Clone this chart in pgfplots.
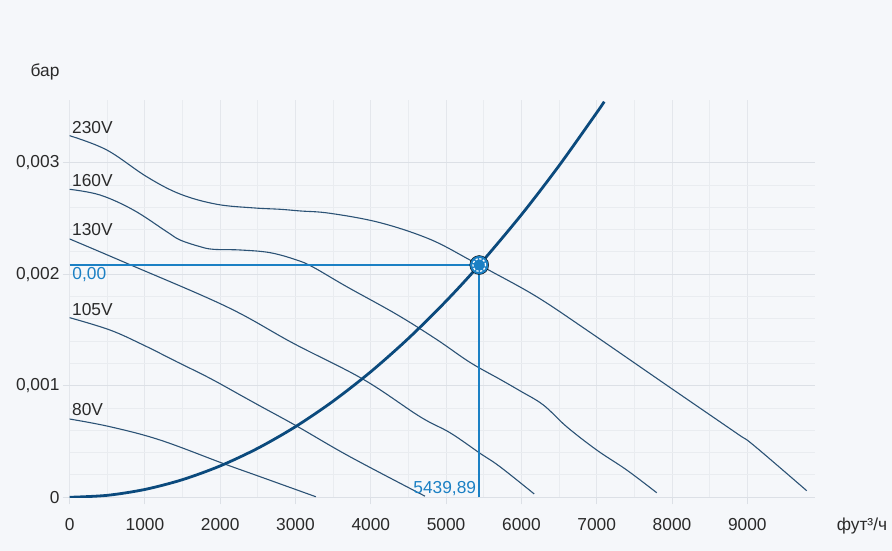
\documentclass[border=0pt]{standalone}
\usepackage{pgfplots}
\pgfplotsset{compat=1.18}
\usepackage{fontspec}
\setmainfont{Liberation Sans}
\definecolor{bg}{HTML}{F5F7FA}
\definecolor{gmaj}{HTML}{DCE0E6}
\definecolor{gmajx}{HTML}{E4E7EC}
\definecolor{gmin}{HTML}{E9ECF0}
\definecolor{fan}{HTML}{2B5275}
\definecolor{sys}{HTML}{0B4A7D}
\definecolor{opblue}{HTML}{1B80C4}
\definecolor{txt}{HTML}{2A2A2A}
\begin{document}
\fontsize{17.4}{20}\selectfont
\begin{tikzpicture}
\path[use as bounding box, fill=bg] (-69.6bp,-53.7bp) rectangle (822.4bp,497.3bp);
\begin{axis}[
  at={(0,0)}, anchor=south west,
  scale only axis, width=745.4bp, height=397.3bp,
  xmin=0, xmax=9899, ymin=0, ymax=0.003563,
  axis line style={draw=none},
  xtick={0,1000,2000,3000,4000,5000,6000,7000,8000,9000},
  xticklabels={0,1000,2000,3000,4000,5000,6000,7000,8000,9000},
  ytick={0,0.001,0.002,0.003},
  yticklabels={0,{0,001},{0,002},{0,003}},
  minor x tick num=1, minor y tick num=4,
  xtick pos=bottom, ytick pos=left,
  grid=both,
  major x grid style={color=gmajx, line width=1bp},
  major y grid style={color=gmaj, line width=1bp},
  minor grid style={color=gmin, line width=1bp},
  tick align=outside,
  major tick length=7bp, minor tick length=0pt,
  tick style={color=gmaj, line width=1bp},
  ticklabel style={font=\fontsize{17.4}{20}\selectfont, text=txt, inner sep=0pt},
  xticklabel style={anchor=north, yshift=-14bp},
  yticklabel style={anchor=east, xshift=-3bp},
  scaled y ticks=false,
]
\addplot[fan, line width=1.1bp, smooth, tension=0.6] coordinates {
(0,0.003243) (493,0.003115) (1024,0.002875) (1466,0.002720) (1953,0.002628)
(2450,0.002595) (2794,0.002583) (3060,0.002568) (3458,0.002547) (4122,0.002463)
(4786,0.002314) (5317,0.002128) (5583,0.002032) (6203,0.001799) (6867,0.001500)
(7973,0.000985) (8859,0.000574) (9080,0.000469) (9789,0.000059)};
\addplot[fan, line width=1.1bp, smooth, tension=0.6] coordinates {
(0,0.002762) (404,0.002711) (846,0.002577) (1290,0.002382) (1466,0.002308)
(1732,0.002248) (1909,0.002224) (2263,0.002218) (2661,0.002194) (3016,0.002128)
(3237,0.002063) (3680,0.001889) (4344,0.001640) (4875,0.001415) (5317,0.001210)
(5716,0.001058) (5981,0.000955) (6291,0.000828) (6601,0.000633) (7000,0.000424)
(7398,0.000245) (7797,0.000041)};
\addplot[fan, line width=1.1bp, smooth, tension=0.6] coordinates {
(0,0.002317) (758,0.002099) (2086,0.001709) (2971,0.001381)
(3900,0.001058) (4653,0.000723) (5052,0.000579) (5450,0.000395) (5716,0.000274)
(6170,0.000030)};
\addplot[fan, line width=1.1bp, smooth, tension=0.6] coordinates {
(0,0.001611) (537,0.001500) (979,0.001366) (1422,0.001216) (1865,0.001067)
(2307,0.000902) (2529,0.000819) (3016,0.000639) (3723,0.000364) (4720,0.000010)};
\addplot[fan, line width=1.1bp, smooth, tension=0.6] coordinates {
(0,0.000702) (537,0.000633) (1200,0.000514) (2041,0.000303)
(2529,0.000185) (3270,0.000005)};
\addplot[sys, line width=2.8bp, smooth] coordinates {
(0,0) (500,0.0000176) (1000,0.0000704) (1500,0.0001584) (2000,0.0002816)
(2500,0.00044) (3000,0.0006335) (3500,0.0008623) (4000,0.0011262) (4500,0.0014254)
(5000,0.0017598) (5439.89,0.002083) (6000,0.002534) (6500,0.002974) (7000,0.003449)
(7100,0.003548)};
\addplot[opblue, line width=1.5bp] coordinates {(0,0.002083) (5439.89,0.002083)};
\addplot[opblue, line width=1.6bp] coordinates {(5439.89,0) (5439.89,0.002083)};
\addplot[only marks, mark=*, mark size=9.5bp, mark options={fill=opblue, draw=none}] coordinates {(5439.89,0.002083)};
\addplot[only marks, mark=o, mark size=6.3bp, mark options={draw=white, line width=1.3bp, dash pattern=on 2.2bp off 1.6bp}] coordinates {(5439.89,0.002083)};
\end{axis}
\node[anchor=base east, inner sep=0pt, text=txt] at (-10bp,421bp) {бар};
\node[anchor=base west, inner sep=0pt, text=txt] at (767bp,-33bp) {фут³/ч};
\node[anchor=base west, inner sep=0pt, text=txt] at (2.4bp,364bp) {230V};
\node[anchor=base west, inner sep=0pt, text=txt] at (2.4bp,310.6bp) {160V};
\node[anchor=base west, inner sep=0pt, text=txt] at (2.4bp,261.3bp) {130V};
\node[anchor=base west, inner sep=0pt, text=txt] at (2.4bp,182bp) {105V};
\node[anchor=base west, inner sep=0pt, text=txt] at (2.4bp,81.6bp) {80V};
\node[anchor=base west, inner sep=0pt, text=opblue] at (2.7bp,218bp) {0,00};
\node[anchor=base east, inner sep=0pt, text=opblue] at (406.7bp,4bp) {5439,89};
\end{tikzpicture}
\end{document}
